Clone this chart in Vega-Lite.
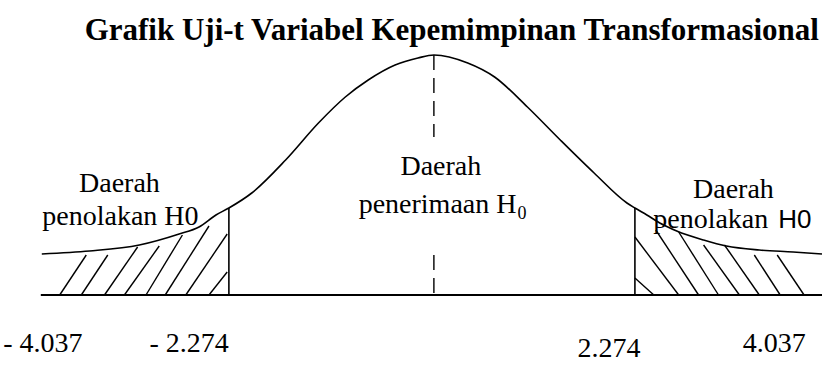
{
  "$schema": "https://vega.github.io/schema/vega-lite/v6.json",
  "width": 826,
  "height": 369,
  "padding": 0,
  "autosize": {"type": "fit", "contains": "padding"},
  "background": "white",
  "config": {"view": {"stroke": null}},
  "datasets": {
    "curve": [
      {"pos": 42, "h": 41}, {"pos": 90, "h": 44}, {"pos": 140, "h": 50}, {"pos": 180, "h": 61},
      {"pos": 200, "h": 68}, {"pos": 217, "h": 80}, {"pos": 230, "h": 87}, {"pos": 253, "h": 102},
      {"pos": 287, "h": 135}, {"pos": 320, "h": 172}, {"pos": 347, "h": 198}, {"pos": 370, "h": 215},
      {"pos": 397, "h": 230}, {"pos": 420, "h": 237}, {"pos": 436, "h": 240}, {"pos": 470, "h": 232},
      {"pos": 497, "h": 218}, {"pos": 530, "h": 188}, {"pos": 563, "h": 155}, {"pos": 597, "h": 122},
      {"pos": 630, "h": 92}, {"pos": 638, "h": 87}, {"pos": 650, "h": 80}, {"pos": 663, "h": 72},
      {"pos": 680, "h": 64}, {"pos": 707, "h": 55}, {"pos": 730, "h": 49}, {"pos": 763, "h": 45},
      {"pos": 797, "h": 43}, {"pos": 826, "h": 41}
    ],
    "hatch": [
      {"p1": 60, "h1": 0, "p2": 86.7, "h2": 40},
      {"p1": 81.7, "h1": 0, "p2": 108.3, "h2": 40},
      {"p1": 105, "h1": 0, "p2": 138.3, "h2": 48},
      {"p1": 125, "h1": 0, "p2": 160, "h2": 49},
      {"p1": 146.7, "h1": 0, "p2": 183.3, "h2": 60},
      {"p1": 166, "h1": 0, "p2": 210, "h2": 69},
      {"p1": 186.7, "h1": 0, "p2": 228.3, "h2": 61},
      {"p1": 210, "h1": 0, "p2": 228.3, "h2": 23},
      {"p1": 638, "h1": 17, "p2": 657, "h2": 0},
      {"p1": 638, "h1": 58, "p2": 682, "h2": 0},
      {"p1": 659, "h1": 65, "p2": 702, "h2": 0},
      {"p1": 682, "h1": 63, "p2": 722, "h2": 0},
      {"p1": 707, "h1": 50, "p2": 743, "h2": 0},
      {"p1": 728, "h1": 50, "p2": 763, "h2": 0},
      {"p1": 758, "h1": 40, "p2": 784, "h2": 0},
      {"p1": 781, "h1": 40, "p2": 808, "h2": 0}
    ],
    "solid": [
      {"p1": 230, "h1": 0, "p2": 230, "h2": 87},
      {"p1": 638, "h1": 0, "p2": 638, "h2": 87}
    ],
    "base": [
      {"p1": 41, "h1": 0, "p2": 826, "h2": 0}
    ],
    "dashed": [
      {"p1": 436, "h1": 240, "p2": 436, "h2": 158},
      {"p1": 436, "h1": 40, "p2": 436, "h2": 0}
    ],
    "labelsCenter": [
      {"t": "Daerah", "pos": 120, "h": 103},
      {"t": "penolakan H0", "pos": 121, "h": 70},
      {"t": "Daerah", "pos": 443, "h": 120},
      {"t": "Daerah", "pos": 737, "h": 97},
      {"t": "- 4.037", "pos": 43, "h": -57},
      {"t": "- 2.274", "pos": 190, "h": -57},
      {"t": "2.274", "pos": 612, "h": -62},
      {"t": "4.037", "pos": 778, "h": -57}
    ],
    "labelsRight": [
      {"t": "penerimaan H", "pos": 519, "h": 82},
      {"t": "penolakan", "pos": 772, "h": 67}
    ],
    "subscript": [
      {"t": "0", "pos": 520, "h": 76}
    ],
    "sansLabel": [
      {"t": "H0", "pos": 782, "h": 67}
    ],
    "title": [
      {"t": "Grafik Uji-t Variabel Kepemimpinan Transformasional", "pos": 454, "h": 255}
    ]
  },
  "resolve": {"scale": {"x": "shared", "y": "shared"}},
  "layer": [
    {
      "data": {"name": "base"},
      "mark": {"type": "rule", "color": "black", "strokeWidth": 2},
      "encoding": {
        "x": {"field": "p1", "type": "quantitative", "scale": {"domain": [0, 826], "nice": false, "zero": false}, "axis": null},
        "y": {"field": "h1", "type": "quantitative", "scale": {"domain": [-74, 295], "nice": false, "zero": false}, "axis": null},
        "x2": {"field": "p2"},
        "y2": {"field": "h2"}
      }
    },
    {
      "data": {"name": "curve"},
      "mark": {"type": "line", "color": "black", "strokeWidth": 1.6, "interpolate": "monotone"},
      "encoding": {
        "x": {"field": "pos", "type": "quantitative", "axis": null},
        "y": {"field": "h", "type": "quantitative", "axis": null}
      }
    },
    {
      "data": {"name": "hatch"},
      "mark": {"type": "rule", "color": "black", "strokeWidth": 1.4},
      "encoding": {
        "x": {"field": "p1", "type": "quantitative", "axis": null},
        "y": {"field": "h1", "type": "quantitative", "axis": null},
        "x2": {"field": "p2"},
        "y2": {"field": "h2"}
      }
    },
    {
      "data": {"name": "solid"},
      "mark": {"type": "rule", "color": "black", "strokeWidth": 1.6},
      "encoding": {
        "x": {"field": "p1", "type": "quantitative", "axis": null},
        "y": {"field": "h1", "type": "quantitative", "axis": null},
        "x2": {"field": "p2"},
        "y2": {"field": "h2"}
      }
    },
    {
      "data": {"name": "dashed"},
      "mark": {"type": "rule", "color": "black", "strokeWidth": 1.4, "strokeDash": [15, 8]},
      "encoding": {
        "x": {"field": "p1", "type": "quantitative", "axis": null},
        "y": {"field": "h1", "type": "quantitative", "axis": null},
        "x2": {"field": "p2"},
        "y2": {"field": "h2"}
      }
    },
    {
      "data": {"name": "labelsCenter"},
      "mark": {"type": "text", "font": "Liberation Serif", "fontSize": 28, "align": "center", "baseline": "alphabetic", "color": "black"},
      "encoding": {
        "x": {"field": "pos", "type": "quantitative", "axis": null},
        "y": {"field": "h", "type": "quantitative", "axis": null},
        "text": {"field": "t"}
      }
    },
    {
      "data": {"name": "labelsRight"},
      "mark": {"type": "text", "font": "Liberation Serif", "fontSize": 28, "align": "right", "baseline": "alphabetic", "color": "black"},
      "encoding": {
        "x": {"field": "pos", "type": "quantitative", "axis": null},
        "y": {"field": "h", "type": "quantitative", "axis": null},
        "text": {"field": "t"}
      }
    },
    {
      "data": {"name": "subscript"},
      "mark": {"type": "text", "font": "Liberation Serif", "fontSize": 18, "align": "left", "baseline": "alphabetic", "color": "black"},
      "encoding": {
        "x": {"field": "pos", "type": "quantitative", "axis": null},
        "y": {"field": "h", "type": "quantitative", "axis": null},
        "text": {"field": "t"}
      }
    },
    {
      "data": {"name": "sansLabel"},
      "mark": {"type": "text", "font": "Liberation Sans", "fontSize": 26, "align": "left", "baseline": "alphabetic", "color": "black"},
      "encoding": {
        "x": {"field": "pos", "type": "quantitative", "axis": null},
        "y": {"field": "h", "type": "quantitative", "axis": null},
        "text": {"field": "t"}
      }
    },
    {
      "data": {"name": "title"},
      "mark": {"type": "text", "font": "Liberation Serif", "fontSize": 31, "fontWeight": "bold", "align": "center", "baseline": "alphabetic", "color": "black"},
      "encoding": {
        "x": {"field": "pos", "type": "quantitative", "axis": null},
        "y": {"field": "h", "type": "quantitative", "axis": null},
        "text": {"field": "t"}
      }
    }
  ]
}
